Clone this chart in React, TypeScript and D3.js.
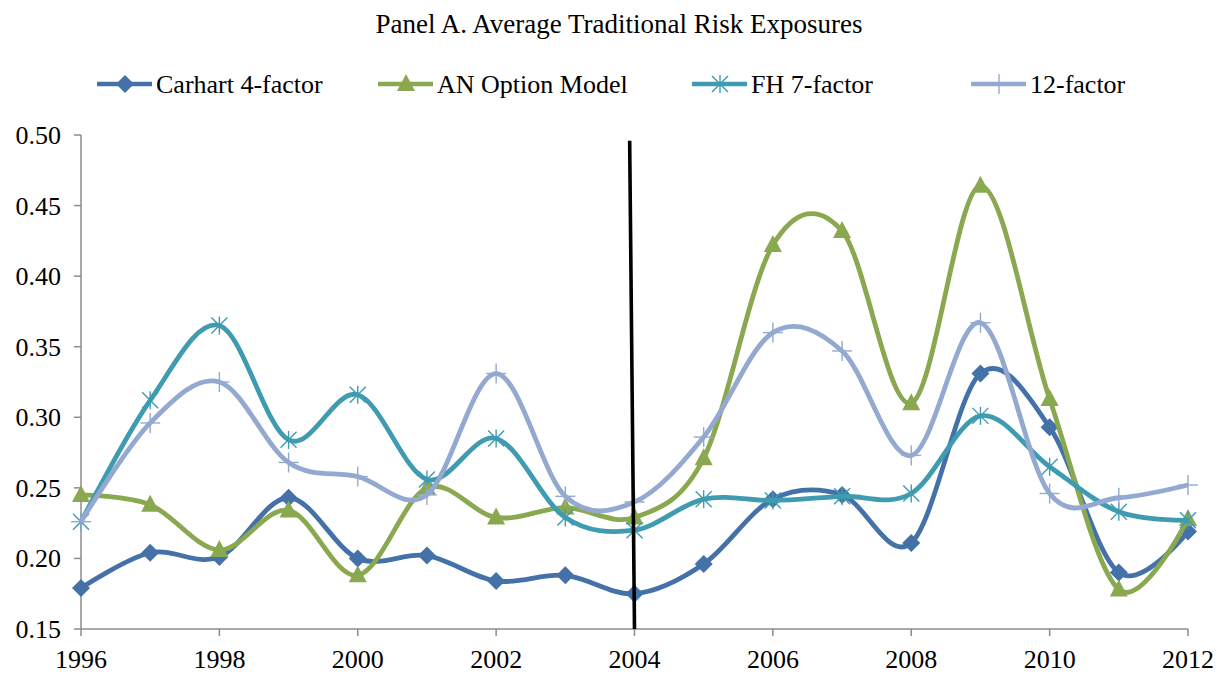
import * as React from 'react';
import * as d3 from 'd3';

const years = [1996, 1997, 1998, 1999, 2000, 2001, 2002, 2003, 2004, 2005, 2006, 2007, 2008, 2009, 2010, 2011, 2012];
const carhart = [0.179, 0.204, 0.201, 0.243, 0.200, 0.202, 0.184, 0.188, 0.175, 0.196, 0.242, 0.245, 0.211, 0.331, 0.293, 0.190, 0.219];
const anOption = [0.245, 0.238, 0.206, 0.234, 0.188, 0.250, 0.229, 0.236, 0.229, 0.271, 0.422, 0.432, 0.310, 0.464, 0.313, 0.178, 0.228];
const fh7 = [0.226, 0.312, 0.365, 0.284, 0.316, 0.256, 0.285, 0.229, 0.220, 0.242, 0.241, 0.244, 0.246, 0.301, 0.265, 0.233, 0.227];
const factor12 = [0.226, 0.296, 0.325, 0.268, 0.258, 0.245, 0.331, 0.244, 0.240, 0.286, 0.360, 0.347, 0.273, 0.367, 0.246, 0.243, 0.252];

const seriesNames = ['Carhart 4-factor', 'AN Option Model', 'FH 7-factor', '12-factor'];
const yTicks = [0.15, 0.20, 0.25, 0.30, 0.35, 0.40, 0.45, 0.50];
const xTicks = [1996, 1998, 2000, 2002, 2004, 2006, 2008, 2010, 2012];
// hand-drawn break line around 2004 (slightly slanted)
const breakLine = [{year: 2003.93, value: 0.496}, {year: 2004, value: 0.15}];

const width = 1219;
const height = 673;
const margin = {left: 81, right: 31, top: 135, bottom: 44};
const font = '"Liberation Serif", "Times New Roman", serif';

const colors = ['#4472a8', '#8aa84f', '#3f9bb0', '#93a9cf'];
const markers = ['diamond', 'triangle', 'star', 'plus'];

const Marker = ({kind, x, y, color}: {kind: string; x: number; y: number; color: string}) => {
  if (kind === 'diamond') {
    return <path d={`M${x},${y - 9}L${x + 9},${y}L${x},${y + 9}L${x - 9},${y}Z`} fill={color} />;
  }
  if (kind === 'triangle') {
    return <path d={`M${x},${y - 10}L${x + 9},${y + 7}L${x - 9},${y + 7}Z`} fill={color} />;
  }
  if (kind === 'star') {
    return (
      <g stroke={color} strokeWidth={1.4}>
        <line x1={x} y1={y - 9} x2={x} y2={y + 9} />
        <line x1={x - 8} y1={y - 8} x2={x + 8} y2={y + 8} />
        <line x1={x - 8} y1={y + 8} x2={x + 8} y2={y - 8} />
      </g>
    );
  }
  return (
    <g stroke={color} strokeWidth={1.4}>
      <line x1={x} y1={y - 10} x2={x} y2={y + 10} />
      <line x1={x - 10} y1={y} x2={x + 10} y2={y} />
    </g>
  );
};

export default function App() {
  const x = d3.scaleLinear().domain([1996, 2012]).range([margin.left, width - margin.right]);
  const y = d3.scaleLinear().domain([0.15, 0.50]).range([height - margin.bottom, margin.top]);
  const allSeries = [carhart, anOption, fh7, factor12];

  const line = d3.line<number>()
    .x((_, i) => x(years[i]))
    .y(d => y(d))
    .curve(d3.curveCardinal.tension(0));

  const legendTextX = [156, 437, 751, 1030];
  const axisColor = '#8c8c8c';

  return (
    <svg width={width} height={height}
      style={{position: 'absolute', left: 0, top: 0, background: '#fff', fontFamily: font}}>
      <text x={619} y={33} textAnchor="middle" fontSize={27}>Panel A. Average Traditional Risk Exposures</text>

      {seriesNames.map((name, i) => (
        <g key={name}>
          <line x1={legendTextX[i] - 59} x2={legendTextX[i] - 4} y1={84} y2={84} stroke={colors[i]} strokeWidth={4.5} />
          <Marker kind={markers[i]} x={legendTextX[i] - 31} y={84} color={colors[i]} />
          <text x={legendTextX[i]} y={93} fontSize={26}>{name}</text>
        </g>
      ))}

      {/* axes */}
      <line x1={x(1996)} x2={x(1996)} y1={y(0.5)} y2={y(0.15)} stroke={axisColor} strokeWidth={1.5} />
      <line x1={x(1996)} x2={x(2012)} y1={y(0.15)} y2={y(0.15)} stroke={axisColor} strokeWidth={1.5} />
      {yTicks.map(t => (
        <g key={t}>
          <line x1={x(1996) - 7} x2={x(1996)} y1={y(t)} y2={y(t)} stroke={axisColor} strokeWidth={1.5} />
          <text x={61} y={y(t) + 9} textAnchor="end" fontSize={26}>{t.toFixed(2)}</text>
        </g>
      ))}
      {xTicks.map(t => (
        <g key={t}>
          <line x1={x(t)} x2={x(t)} y1={y(0.15)} y2={y(0.15) + 7} stroke={axisColor} strokeWidth={1.5} />
          <text x={x(t)} y={668} textAnchor="middle" fontSize={26}>{t}</text>
        </g>
      ))}

      {allSeries.map((vals, i) => (
        <g key={i}>
          <path d={line(vals) || ''} fill="none" stroke={colors[i]} strokeWidth={4.8} />
          {vals.map((v, j) => (
            <Marker key={j} kind={markers[i]} x={x(years[j])} y={y(v)} color={colors[i]} />
          ))}
        </g>
      ))}

      <line
        x1={x(breakLine[0].year)} y1={y(breakLine[0].value)}
        x2={x(breakLine[1].year)} y2={y(breakLine[1].value)}
        stroke="#000" strokeWidth={3.6} />
    </svg>
  );
}
